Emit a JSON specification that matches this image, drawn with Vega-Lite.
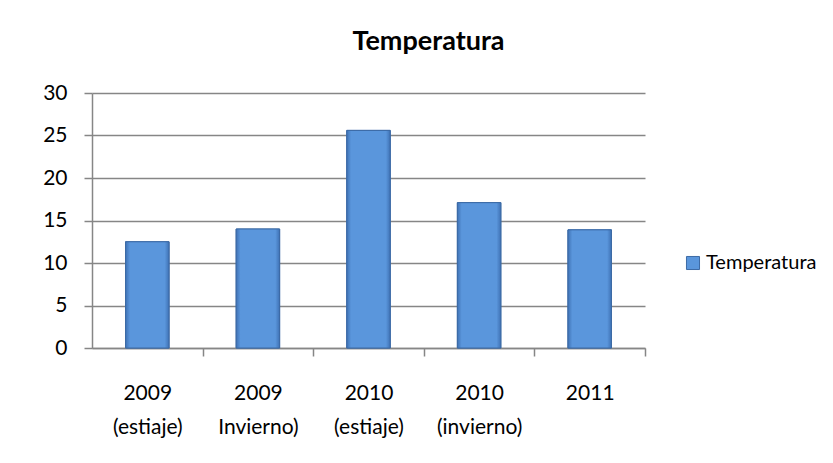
{
  "$schema": "https://vega.github.io/schema/vega-lite/v6.json",
  "width": 553,
  "height": 255,
  "autosize": "none",
  "padding": {"left": 92, "top": 93, "right": 188, "bottom": 115},
  "background": "white",
  "title": {
    "text": "Temperatura",
    "font": "Lato",
    "fontSize": 27,
    "fontWeight": "bold",
    "color": "#000000",
    "anchor": "middle",
    "dx": 60,
    "offset": 26
  },
  "data": {
    "values": [
      {"periodo": "2009|(estiaje)", "serie": "Temperatura", "valor": 12.5},
      {"periodo": "2009|Invierno)", "serie": "Temperatura", "valor": 14.0},
      {"periodo": "2010|(estiaje)", "serie": "Temperatura", "valor": 25.6},
      {"periodo": "2010|(invierno)", "serie": "Temperatura", "valor": 17.1},
      {"periodo": "2011", "serie": "Temperatura", "valor": 13.9}
    ]
  },
  "encoding": {
    "x": {
      "field": "periodo",
      "type": "nominal",
      "sort": null,
      "scale": {"paddingInner": 0.607, "paddingOuter": 0.3035},
      "axis": {
        "title": null,
        "labelAngle": 0,
        "labelExpr": "datum.value ? split(datum.value, '|') : ''",
        "labelFont": "Lato",
        "labelFontSize": 21,
        "labelColor": "#000000",
        "labelLineHeight": 34,
        "labelPadding": 26,
        "tickOffset": 55.3,
        "labelOffset": -55.3,
        "tickSize": 8,
        "tickColor": "#868686",
        "tickWidth": 1.5,
        "domainColor": "#868686",
        "domainWidth": 1.5,
        "grid": false
      }
    },
    "y": {
      "field": "valor",
      "type": "quantitative",
      "scale": {"domain": [0, 30], "nice": false},
      "axis": {
        "title": null,
        "values": [0, 5, 10, 15, 20, 25, 30],
        "labelFont": "Lato",
        "labelFontSize": 21,
        "labelColor": "#000000",
        "labelPadding": 17,
        "tickSize": 8,
        "tickColor": "#868686",
        "tickWidth": 1.5,
        "domainColor": "#868686",
        "domainWidth": 1.5,
        "grid": true,
        "gridColor": "#868686",
        "gridWidth": 1.5
      }
    }
  },
  "layer": [
    {
      "mark": {"type": "bar", "stroke": "#3C6AA5", "strokeWidth": 1},
      "encoding": {
        "color": {
          "field": "serie",
          "type": "nominal",
          "scale": {"range": ["#5A96DC"]},
          "legend": {
            "title": null,
            "orient": "none",
            "legendX": 591,
            "legendY": 160,
            "symbolType": "square",
            "symbolSize": 170,
            "symbolStrokeColor": "#3C6AA5",
            "symbolStrokeWidth": 1,
            "symbolOpacity": 1,
            "labelFont": "Lato",
            "labelFontSize": 20,
            "labelColor": "#000000",
            "labelOffset": 3
          }
        }
      }
    },
    {
      "mark": {
        "type": "bar",
        "stroke": "#3C6AA5",
        "strokeWidth": 1,
        "color": {
          "gradient": "linear",
          "x1": 0, "y1": 0, "x2": 1, "y2": 0,
          "stops": [
            {"offset": 0, "color": "#3F72B5"},
            {"offset": 0.1, "color": "#5A96DC"},
            {"offset": 0.9, "color": "#5A96DC"},
            {"offset": 1, "color": "#3F72B5"}
          ]
        }
      }
    }
  ],
  "config": {
    "view": {"stroke": null}
  }
}
